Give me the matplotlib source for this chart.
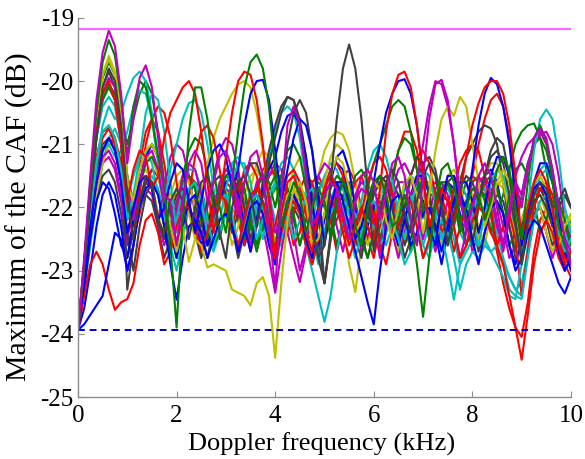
import numpy as np
import matplotlib
matplotlib.use("Agg")
import matplotlib.pyplot as plt

plt.rcParams['font.family'] = ['Liberation Serif', 'DejaVu Serif']

# Doppler frequency grid (kHz), 0.125 kHz step
freq_khz = np.arange(81) / 8.0

# Reference levels (dB)
upper_level = -19.18
lower_level = -23.94

# Curves: maximum of the CAF (dB); each line of a list = one kHz (8 samples)
m_top = [-23.94, -22.8, -21.5, -20.3, -19.55, -19.2, -19.45, -20.2,
         -21.3, -20.6, -19.95, -19.75, -20.1, -20.9, -21.8, -21.9,
         -22.6, -21.9, -21.3, -21.1, -21.3, -21.9, -21.6, -21.2,
         -21.1, -21.4, -22.1, -21.6, -21.2, -21.1, -21.5, -22.3,
         -23.3, -21.8, -20.7, -20.4, -20.7, -21.5, -22.3, -22.1,
         -21.8, -21.6, -21.7, -22.1, -22.5, -21.9, -21.5, -21.4,
         -21.6, -22.2, -21.8, -21.3, -21.2, -21.5, -22.2, -22.6,
         -21.5, -20.6, -20.05, -19.98, -20.3, -21.0, -21.9, -22.3,
         -22.0, -21.5, -21.3, -21.5, -22.0, -22.6, -22.1, -21.6,
         -22.0, -21.4, -20.9, -20.75, -20.9, -21.4, -22.0, -22.5,
         -22.9]
g_top = [-23.94, -22.9, -21.6, -20.5, -19.7, -19.35, -19.6, -20.3,
         -21.2, -20.4, -20.0, -20.1, -20.6, -21.2, -21.7, -22.6,
         -23.9, -22.2, -20.8, -20.1, -20.1, -20.6, -21.4, -22.0,
         -22.4, -21.6, -20.8, -20.1, -19.7, -19.58, -19.8, -20.4,
         -21.4, -22.3, -21.9, -21.6, -21.8, -22.4, -22.0, -21.7,
         -21.9, -22.5, -21.9, -21.6, -21.8, -22.3, -22.6, -22.0,
         -21.6, -21.5, -21.8, -22.3, -22.2, -21.8, -22.2, -22.9,
         -23.73, -22.8, -21.9, -21.4, -21.3, -21.6, -22.2, -22.0,
         -21.7, -21.8, -22.2, -21.9, -21.4, -21.2, -21.4, -22.0,
         -22.5, -21.6, -20.9, -20.7, -20.95, -21.6, -22.3, -22.6,
         -22.8]
k_peak = [-23.94, -23.0, -21.9, -20.9, -20.1, -19.8, -20.0, -20.7,
          -21.8, -22.5, -21.9, -21.5, -21.6, -22.2, -22.4, -21.9,
          -21.7, -21.9, -22.5, -22.0, -21.6, -21.5, -21.8, -22.4,
          -22.8, -22.0, -21.6, -21.5, -21.8, -22.3, -21.8, -21.3,
          -20.9, -20.5, -20.25, -20.3, -20.7, -21.4, -22.3, -22.8,
          -22.6, -21.6, -20.6, -19.8, -19.42, -19.8, -20.6, -21.7,
          -22.7, -22.1, -21.6, -21.4, -21.6, -22.1, -22.4, -21.9,
          -21.5, -21.3, -21.5, -22.0, -22.6, -22.1, -21.7, -21.5,
          -21.6, -21.9, -21.5, -21.1, -20.9, -21.0, -21.5, -22.2,
          -22.9, -22.2, -21.8, -21.6, -21.7, -22.0, -21.9, -21.7,
          -22.0]
y_dip = [-23.94, -23.0, -21.8, -20.6, -19.9, -19.65, -19.9, -20.6,
         -21.6, -21.9, -21.4, -21.1, -21.0, -21.2, -21.7, -22.3,
         -22.7, -22.3, -22.86, -22.5, -22.6, -22.95, -22.9, -22.95,
         -23.0, -23.3, -23.35, -23.4, -23.55, -23.2, -23.1, -23.4,
         -24.38, -23.2, -22.2, -21.7, -21.6, -21.9, -22.6, -22.5,
         -22.1, -21.5, -21.2, -21.3, -21.7, -22.4, -22.2, -21.8,
         -21.6, -21.7, -22.2, -22.5, -22.0, -21.6, -21.5, -21.8,
         -22.4, -21.8, -21.1, -20.6, -20.4, -20.55, -20.25, -20.4,
         -21.0, -21.6, -22.3, -22.0, -21.6, -21.4, -21.6, -22.1,
         -22.6, -22.0, -21.6, -21.5, -21.7, -22.2, -22.6, -22.3,
         -22.1]
r_high = [-23.94, -22.9, -21.7, -20.8, -20.2, -20.0, -20.3, -21.0,
          -21.9, -21.4, -21.1, -21.2, -21.7, -21.5, -20.9, -20.5,
          -20.3, -20.1, -20.0, -20.2, -20.8, -21.6, -22.4, -21.9,
          -21.2, -20.5, -20.0, -19.85, -19.9, -20.3, -21.0, -21.9,
          -22.8, -22.1, -21.6, -21.5, -21.8, -22.4, -22.7, -22.1,
          -21.7, -21.5, -21.7, -22.2, -22.6, -22.3, -22.0, -22.3,
          -22.6, -21.7, -20.8, -20.2, -19.9, -19.85, -20.1, -20.7,
          -21.5, -22.3, -22.0, -21.7, -21.9, -22.2, -21.8, -21.2,
          -20.7, -20.35, -20.1, -20.0, -20.0, -20.2, -20.7, -21.5,
          -22.5, -22.0, -21.6, -21.4, -21.6, -22.0, -22.6, -22.9,
          -22.7]
b_high = [-23.94, -23.2, -22.3, -21.6, -21.1, -20.9, -21.1, -21.6,
          -22.4, -22.0, -21.6, -21.5, -21.7, -22.2, -22.0, -21.6,
          -21.3, -21.4, -21.9, -22.4, -21.9, -21.4, -21.1, -21.0,
          -21.2, -21.7, -21.4, -20.7, -20.2, -20.0, -19.98, -20.3,
          -21.1, -21.9, -21.4, -20.9, -20.6, -20.7, -21.1, -21.8,
          -22.6, -22.0, -21.6, -21.6, -21.9, -22.5, -22.3, -21.9,
          -21.6, -21.0, -20.5, -20.2, -20.0, -19.97, -20.2, -20.7,
          -21.5, -22.3, -22.6, -21.9, -21.5, -21.5, -21.9, -22.0,
          -21.4, -20.7, -20.2, -19.95, -20.05, -20.4, -21.0, -21.8,
          -22.6, -22.1, -21.7, -21.6, -21.8, -22.2, -22.7, -23.0,
          -22.8]
b_low = [-23.94, -23.85, -23.7, -23.55, -23.4, -22.9, -22.4, -22.5,
         -23.0, -22.6, -22.0, -21.7, -21.6, -21.8, -22.3, -22.9,
         -23.46, -22.8, -22.3, -22.2, -22.4, -22.8, -22.5, -22.2,
         -22.1, -22.3, -22.7, -22.4, -22.0, -21.9, -22.1, -22.6,
         -22.9, -22.3, -21.9, -21.8, -22.0, -22.5, -22.8, -22.2,
         -21.8, -21.6, -21.6, -21.9, -22.3, -22.7, -23.1, -23.5,
         -23.85, -23.0, -22.3, -21.9, -21.8, -22.1, -22.6, -22.4,
         -22.1, -22.0, -22.3, -22.7, -22.3, -21.9, -21.8, -22.0,
         -22.5, -22.9, -22.4, -22.0, -21.9, -22.1, -22.6, -23.0,
         -22.8, -22.4, -22.2, -22.3, -22.6, -22.9, -23.2, -23.36,
         -23.1]
r_low = [-23.94, -23.4, -22.9, -22.7, -22.9, -23.3, -23.62, -23.5,
         -23.45, -23.2, -22.6, -22.2, -22.1, -22.4, -22.9, -22.7,
         -22.3, -22.0, -22.0, -22.3, -22.7, -22.4, -22.0, -21.8,
         -21.9, -22.3, -22.6, -22.2, -21.8, -21.7, -21.9, -22.4,
         -22.9, -22.4, -22.0, -21.9, -22.1, -22.6, -22.9, -22.5,
         -22.1, -21.9, -22.0, -22.4, -22.8, -22.5, -22.1, -21.9,
         -22.1, -22.6, -22.9, -22.4, -22.0, -21.8, -21.9, -22.3,
         -22.8, -22.5, -22.0, -21.8, -21.9, -22.3, -22.8, -22.6,
         -22.2, -22.0, -22.1, -22.4, -22.6, -22.9, -23.4, -23.9,
         -24.41, -23.7, -22.9, -22.4, -22.2, -22.4, -22.8, -23.0,
         -22.8]
c_low = [-23.94, -23.1, -22.2, -21.3, -20.8, -20.7, -20.9, -21.4,
         -22.2, -21.8, -21.2, -20.5, -20.2, -20.3, -20.8, -21.6,
         -22.4, -22.0, -21.7, -21.6, -21.9, -22.4, -22.3, -21.9,
         -21.8, -22.1, -22.6, -22.3, -21.9, -21.8, -22.0, -22.5,
         -22.9, -22.5, -22.1, -21.9, -22.1, -22.6, -23.0, -23.4,
         -23.81, -23.4, -22.7, -22.2, -22.0, -22.1, -22.3, -22.2,
         -22.3, -22.6, -22.4, -22.2, -22.5, -22.9, -22.7, -22.5,
         -22.6, -22.8, -22.4, -22.2, -22.4, -22.8, -23.3, -22.9,
         -22.7, -22.8, -22.6, -22.7, -22.9, -23.1, -23.4, -23.45,
         -22.9, -22.0, -21.1, -20.6, -20.45, -20.6, -21.2, -22.0,
         -22.4]
m_mid = [-23.94, -23.0, -21.9, -20.9, -20.2, -19.95, -20.1, -20.7,
         -21.6, -22.2, -21.6, -21.2, -21.1, -21.4, -22.0, -22.5,
         -22.0, -21.5, -21.3, -21.4, -21.8, -22.4, -22.1, -21.6,
         -21.4, -21.5, -21.9, -22.4, -22.0, -21.6, -21.5, -21.8,
         -22.4, -22.2, -22.4, -22.8, -23.18, -22.7, -22.0, -21.5,
         -21.3, -21.4, -21.8, -22.4, -22.3, -21.9, -21.7, -21.8,
         -22.2, -22.8, -22.4, -21.9, -21.6, -21.6, -21.8, -21.6,
         -21.0, -20.4, -20.0, -20.05, -20.4, -21.0, -21.8, -22.4,
         -22.0, -21.7, -21.6, -21.8, -22.3, -22.6, -22.0, -21.5,
         -21.2, -21.0, -20.9, -20.8, -21.0, -21.4, -22.0, -22.5,
         -22.7]
k_mid = [-23.94, -23.0, -21.9, -20.8, -20.1, -19.85, -20.1, -21.0,
         -23.3, -22.6, -21.9, -21.6, -21.7, -22.2, -22.5, -22.1,
         -21.8, -21.7, -21.9, -22.4, -22.3, -21.9, -21.6, -21.5,
         -21.8, -22.4, -22.1, -21.6, -21.3, -21.3, -21.6, -22.2,
         -22.7, -21.8, -21.0, -20.5, -20.3, -20.5, -21.1, -22.0,
         -23.2, -22.4, -21.8, -21.6, -21.8, -22.3, -22.6, -22.1,
         -21.7, -21.5, -21.6, -22.0, -22.5, -22.0, -21.5, -21.2,
         -21.3, -21.8, -22.4, -22.0, -21.6, -21.5, -21.7, -22.2,
         -22.6, -22.0, -21.5, -21.2, -21.1, -21.3, -21.8, -22.3,
         -22.8, -22.2, -21.9, -21.8, -22.0, -22.3, -22.0, -21.8,
         -22.0]
c_mid = [-23.94, -23.1, -22.2, -21.3, -20.7, -20.4, -20.6, -20.5,
         -20.2, -19.95, -19.85, -20.0, -20.5, -21.2, -22.0, -22.5,
         -22.2, -21.7, -21.4, -21.4, -21.7, -22.2, -22.6, -22.2,
         -21.7, -21.3, -21.2, -21.4, -21.9, -22.5, -22.2, -21.8,
         -21.6, -21.7, -22.1, -22.5, -22.2, -21.8, -21.7, -21.9,
         -22.4, -22.1, -21.9, -22.0, -22.4, -22.8, -22.4, -22.0,
         -21.9, -22.1, -22.6, -22.3, -21.9, -21.7, -21.8, -22.3,
         -22.8, -22.6, -22.3, -22.4, -22.9, -23.46, -22.9, -22.7,
         -22.5, -22.6, -22.5, -22.7, -22.6, -22.9, -23.3, -23.4,
         -23.45, -22.8, -22.2, -21.9, -21.8, -22.0, -22.4, -22.7,
         -22.5]
b_mid = [-23.94, -23.3, -22.5, -21.9, -21.6, -21.7, -22.1, -22.6,
         -22.8, -22.2, -21.6, -21.2, -21.0, -21.2, -21.7, -22.3,
         -22.8, -22.3, -21.9, -21.8, -22.1, -22.6, -22.3, -21.9,
         -21.6, -21.5, -21.8, -22.3, -22.7, -22.2, -21.7, -21.4,
         -21.2, -20.8, -20.55, -20.5, -20.7, -21.2, -21.9, -22.6,
         -22.2, -21.6, -21.2, -21.1, -21.4, -22.0, -22.6, -22.3,
         -22.0, -21.8, -21.9, -22.3, -22.6, -22.2, -21.8, -21.5,
         -21.5, -21.8, -22.4, -22.9, -22.4, -21.9, -21.6, -21.6,
         -21.9, -22.4, -22.0, -21.5, -21.2, -21.2, -21.5, -22.0,
         -22.6, -22.1, -21.6, -21.3, -21.3, -21.6, -22.1, -22.7,
         -23.0]
r_mid = [-23.94, -23.0, -22.1, -21.3, -20.9, -20.75, -20.9, -21.3,
         -22.0, -22.5, -21.8, -21.0, -20.6, -20.4, -20.5, -20.9,
         -21.6, -22.3, -21.8, -21.2, -20.8, -20.7, -20.9, -21.4,
         -22.0, -22.4, -21.8, -21.4, -21.3, -21.5, -22.0, -22.5,
         -22.3, -21.8, -21.5, -21.4, -21.6, -22.1, -22.5, -22.1,
         -21.7, -21.4, -21.3, -21.5, -21.9, -22.5, -22.1, -21.6,
         -21.3, -21.2, -21.4, -21.8, -22.3, -22.0, -21.5, -21.2,
         -21.1, -21.3, -21.8, -22.4, -22.2, -21.7, -21.3, -21.1,
         -21.0, -21.1, -21.5, -22.0, -22.6, -22.3, -22.1, -22.5,
         -23.4, -22.7, -22.0, -21.7, -21.6, -21.8, -22.3, -22.8,
         -22.9]
g_mid = [-23.94, -22.9, -21.8, -20.8, -20.3, -20.1, -20.3, -20.9,
         -21.8, -22.3, -21.7, -21.3, -21.2, -21.4, -21.9, -22.4,
         -22.0, -21.6, -21.5, -21.7, -22.2, -22.6, -22.1, -21.7,
         -21.5, -21.6, -22.0, -22.5, -22.1, -21.7, -21.5, -21.6,
         -22.0, -21.5, -21.1, -21.0, -21.2, -21.7, -22.3, -22.6,
         -22.1, -21.7, -21.5, -21.6, -22.0, -22.5, -22.2, -21.7,
         -21.3, -21.0, -20.7, -20.4, -20.3, -20.4, -20.8, -21.4,
         -22.1, -22.4, -21.9, -21.6, -21.6, -21.9, -22.4, -22.2,
         -21.9, -21.7, -21.8, -22.1, -22.6, -22.3, -21.8, -21.4,
         -21.3, -21.5, -21.9, -22.4, -22.2, -21.9, -21.9, -22.2,
         -22.6]
y_mid = [-23.94, -22.9, -21.7, -20.6, -19.9, -19.6, -19.85, -20.5,
         -21.5, -22.2, -21.6, -21.2, -21.2, -21.5, -22.0, -21.8,
         -21.5, -21.4, -21.6, -22.0, -21.8, -21.3, -20.9, -20.6,
         -20.4, -20.2, -20.05, -20.0, -20.1, -20.5, -21.1, -21.9,
         -22.6, -22.2, -21.8, -21.7, -21.9, -22.4, -22.6, -22.1,
         -21.6, -21.2, -21.0, -21.1, -21.4, -22.0, -22.4, -21.9,
         -21.6, -21.5, -21.7, -22.2, -22.5, -22.0, -21.6, -21.5,
         -21.7, -22.2, -22.4, -21.9, -21.5, -21.4, -21.6, -22.1,
         -22.5, -22.0, -21.5, -21.3, -21.3, -21.6, -22.1, -22.4,
         -22.2, -21.9, -21.8, -22.0, -22.4, -22.7, -22.4, -22.1,
         -22.2]
c_hi2 = [-23.94, -22.9, -21.8, -20.9, -20.4, -20.25, -20.4, -21.0,
         -21.9, -21.5, -21.2, -21.1, -21.3, -21.8, -21.9, -21.4,
         -21.0, -20.6, -20.35, -20.3, -20.5, -21.0, -21.7, -22.4,
         -22.1, -21.6, -21.3, -21.3, -21.6, -22.1, -22.5, -22.0,
         -21.6, -21.3, -21.2, -21.4, -21.8, -22.4, -22.2, -21.8,
         -21.5, -21.3, -21.4, -21.7, -22.1, -22.4, -21.9, -21.4,
         -21.1, -21.0, -21.2, -21.6, -22.1, -22.5, -22.0, -21.6,
         -21.4, -21.5, -21.9, -22.5, -22.2, -21.8, -21.6, -21.8,
         -22.2, -22.6, -22.1, -21.6, -21.4, -21.5, -21.9, -22.4,
         -22.8, -22.2, -21.7, -21.4, -21.3, -21.5, -21.9, -22.4,
         -22.7]
k_hi2 = [-23.94, -23.1, -22.2, -21.4, -21.0, -20.9, -21.1, -21.6,
         -22.4, -23.0, -22.3, -21.8, -21.6, -21.8, -22.3, -22.7,
         -22.2, -21.8, -21.7, -21.9, -22.4, -22.8, -22.3, -21.8,
         -21.5, -21.4, -21.6, -22.0, -22.5, -22.2, -21.6, -21.1,
         -20.7, -20.4, -20.25, -20.3, -20.6, -21.2, -22.0, -22.8,
         -23.2, -22.5, -22.0, -21.8, -22.0, -22.5, -22.8, -22.2,
         -21.8, -21.6, -21.5, -21.7, -22.1, -22.6, -22.3, -21.7,
         -21.3, -21.2, -21.4, -21.9, -22.5, -22.1, -21.6, -21.2,
         -21.0, -20.8, -20.7, -20.75, -21.0, -21.6, -22.3, -22.7,
         -22.3, -21.9, -21.7, -21.7, -21.9, -22.3, -22.0, -21.8,
         -22.0]
m_lo2 = [-23.94, -23.1, -22.3, -21.6, -21.2, -21.1, -21.3, -21.8,
         -22.5, -22.0, -21.6, -21.5, -21.7, -22.2, -21.7, -21.2,
         -21.0, -21.1, -21.5, -22.1, -22.5, -22.0, -21.5, -21.1,
         -20.9, -21.0, -21.4, -22.0, -22.6, -22.3, -21.8, -21.5,
         -21.3, -21.4, -21.8, -22.4, -23.0, -22.6, -22.0, -21.7,
         -21.6, -21.8, -22.3, -22.7, -22.2, -21.8, -21.6, -21.7,
         -22.1, -22.6, -22.2, -21.7, -21.4, -21.3, -21.5, -22.0,
         -22.5, -22.1, -21.7, -21.6, -21.8, -22.3, -22.8, -22.4,
         -21.9, -21.6, -21.5, -21.7, -22.2, -22.7, -22.2, -21.6,
         -21.8, -21.3, -21.0, -20.85, -20.8, -21.0, -21.5, -22.2,
         -22.5]
g_lo2 = [-23.94, -23.0, -21.9, -20.9, -20.3, -20.05, -20.2, -20.6,
         -21.0, -20.6, -20.2, -20.0, -20.2, -20.8, -21.6, -22.4,
         -22.8, -22.3, -21.8, -21.6, -21.7, -22.1, -22.6, -22.4,
         -22.0, -21.7, -21.6, -21.8, -22.3, -22.7, -22.3, -21.9,
         -21.7, -21.6, -21.8, -22.2, -22.6, -22.2, -21.9, -21.8,
         -22.0, -22.4, -22.2, -21.9, -21.8, -22.0, -22.5, -22.8,
         -22.4, -22.0, -21.7, -21.6, -21.8, -22.2, -22.7, -22.4,
         -22.0, -21.8, -21.8, -22.1, -22.6, -22.3, -21.9, -21.6,
         -21.5, -21.6, -21.9, -22.4, -22.1, -21.8, -21.4, -21.0,
         -20.8, -20.7, -20.67, -20.9, -21.4, -22.0, -22.5, -22.4,
         -22.2]
b_lo2 = [-23.94, -23.6, -23.0, -22.3, -21.8, -21.6, -21.8, -22.3,
         -23.0, -22.6, -22.0, -21.6, -21.4, -21.5, -21.9, -22.4,
         -22.6, -22.2, -22.0, -22.2, -22.6, -22.3, -21.9, -21.7,
         -21.8, -22.2, -22.7, -22.3, -21.9, -21.8, -22.0, -22.5,
         -22.6, -22.1, -21.8, -21.8, -22.1, -22.6, -22.4, -22.0,
         -21.7, -21.4, -21.3, -21.4, -21.8, -22.3, -22.6, -22.1,
         -21.7, -21.5, -21.6, -22.0, -22.5, -22.2, -21.8, -21.7,
         -21.9, -22.4, -22.2, -21.8, -21.6, -21.7, -22.1, -22.6,
         -22.3, -21.8, -21.5, -21.4, -21.6, -22.1, -22.6, -22.9,
         -22.5, -22.0, -21.7, -21.6, -21.8, -22.2, -22.7, -23.0,
         -22.8]
r_lo2 = [-23.94, -23.1, -22.3, -21.6, -21.1, -20.9, -21.0, -21.4,
         -21.9, -22.5, -22.1, -21.6, -21.4, -21.5, -21.9, -22.4,
         -22.1, -21.7, -21.5, -21.6, -22.0, -22.5, -22.2, -21.8,
         -21.6, -21.7, -22.1, -22.6, -22.2, -21.7, -21.4, -21.3,
         -21.5, -21.9, -22.4, -22.1, -21.7, -21.5, -21.6, -22.0,
         -22.5, -22.2, -21.8, -21.5, -21.4, -21.6, -22.0, -22.5,
         -22.8, -22.3, -21.9, -21.7, -21.8, -22.2, -22.7, -22.4,
         -22.0, -21.7, -21.6, -21.8, -22.2, -22.7, -22.3, -21.9,
         -21.6, -21.5, -21.7, -22.1, -22.7, -23.2, -23.6, -23.9,
         -24.05, -23.5, -22.7, -22.2, -22.0, -22.1, -22.5, -22.9,
         -23.1]
c_lo2 = [-23.94, -23.3, -22.6, -21.9, -21.3, -20.9, -20.75, -21.0,
         -21.5, -22.1, -21.9, -21.6, -21.5, -21.7, -22.1, -22.6,
         -23.0, -22.5, -22.0, -21.8, -21.9, -22.3, -22.7, -22.4,
         -22.1, -22.0, -22.2, -22.6, -22.3, -21.9, -21.7, -21.8,
         -22.2, -22.6, -22.3, -21.9, -21.7, -21.8, -22.2, -22.7,
         -22.4, -22.0, -21.8, -21.8, -22.1, -22.6, -22.4, -22.0,
         -21.8, -21.8, -22.1, -22.5, -22.3, -22.0, -21.9, -22.1,
         -22.6, -22.3, -22.0, -21.9, -22.1, -22.5, -22.9, -22.6,
         -22.2, -22.0, -22.0, -22.3, -22.7, -22.9, -23.1, -23.3,
         -23.2, -22.7, -22.2, -21.9, -21.8, -22.0, -22.3, -22.6,
         -22.5]
m_low = [-23.94, -23.2, -22.4, -21.7, -21.3, -21.2, -21.4, -21.9,
         -22.6, -22.3, -21.9, -21.7, -21.8, -22.2, -22.6, -22.3,
         -21.9, -21.6, -21.5, -21.7, -22.1, -22.6, -22.3, -21.9,
         -21.7, -21.8, -22.2, -22.6, -22.3, -22.0, -22.3, -22.8,
         -23.35, -22.7, -22.1, -21.8, -21.7, -22.0, -22.4, -22.8,
         -22.5, -22.0, -21.7, -21.6, -21.8, -22.2, -22.7, -22.5,
         -22.1, -21.9, -22.0, -22.4, -22.8, -22.4, -22.0, -21.8,
         -21.9, -22.3, -22.7, -22.3, -21.9, -21.7, -21.8, -22.2,
         -22.7, -22.4, -22.0, -21.8, -21.9, -22.3, -22.8, -22.6,
         -22.2, -21.9, -21.8, -22.0, -22.4, -22.8, -22.5, -22.3,
         -22.6]
y_low = [-23.94, -23.0, -22.0, -21.2, -20.8, -20.7, -20.9, -21.4,
         -22.2, -21.8, -21.5, -21.4, -21.6, -22.1, -22.5, -22.1,
         -21.7, -21.5, -21.6, -22.0, -22.5, -22.2, -21.8, -21.6,
         -21.7, -22.1, -22.6, -22.2, -21.7, -21.3, -21.1, -21.2,
         -21.6, -22.2, -21.8, -21.4, -21.2, -21.3, -21.7, -22.3,
         -22.5, -22.0, -21.7, -22.2, -22.9, -23.34, -22.6, -22.0,
         -21.7, -21.6, -21.8, -22.2, -22.7, -22.3, -21.9, -21.6,
         -21.5, -21.7, -22.1, -22.6, -22.2, -21.8, -21.6, -21.6,
         -21.8, -22.3, -22.6, -22.1, -21.7, -21.5, -21.6, -22.0,
         -22.5, -22.1, -21.8, -21.7, -21.9, -22.3, -22.7, -22.4,
         -22.3]
k_low = [-23.94, -23.2, -22.4, -21.8, -21.5, -21.4, -21.6, -22.1,
         -22.8, -22.4, -22.0, -21.8, -21.9, -22.3, -22.8, -22.5,
         -22.1, -21.9, -22.0, -22.4, -22.8, -22.4, -22.0, -21.8,
         -21.9, -22.3, -22.8, -22.4, -22.0, -21.8, -21.9, -22.3,
         -22.8, -22.4, -22.1, -22.0, -22.2, -22.6, -22.9, -22.5,
         -23.2, -22.5, -21.9, -21.6, -21.6, -21.9, -22.4, -22.8,
         -22.4, -22.0, -21.8, -21.9, -22.3, -22.8, -22.5, -22.1,
         -21.9, -21.9, -22.2, -22.6, -22.3, -21.9, -21.7, -21.8,
         -22.2, -22.7, -22.4, -22.0, -21.8, -21.9, -22.3, -22.8,
         -22.9, -22.4, -22.1, -22.0, -22.2, -22.6, -22.4, -22.2,
         -22.5]
r_hi2 = [-23.94, -23.0, -22.0, -21.2, -20.8, -20.75, -21.0, -21.6,
         -22.4, -22.0, -21.3, -20.8, -20.6, -20.8, -21.3, -22.0,
         -22.6, -22.2, -21.9, -21.9, -22.2, -22.6, -22.3, -21.9,
         -21.6, -21.5, -21.7, -22.2, -22.7, -22.3, -21.8, -21.5,
         -21.4, -21.6, -22.1, -22.6, -22.4, -21.9, -21.6, -21.5,
         -21.7, -22.2, -22.7, -22.3, -21.9, -21.6, -21.5, -21.8,
         -22.3, -22.7, -22.2, -21.6, -21.1, -20.8, -20.8, -21.1,
         -21.7, -22.3, -22.0, -21.7, -21.6, -21.8, -22.3, -22.0,
         -21.5, -21.0, -20.6, -20.3, -20.2, -20.4, -20.9, -21.7,
         -22.7, -22.3, -21.9, -21.7, -21.8, -22.1, -22.5, -22.8,
         -22.7]
g_hi2 = [-23.94, -22.9, -21.7, -20.6, -19.95, -19.7, -19.9, -20.5,
         -21.5, -21.9, -21.4, -21.1, -21.0, -21.2, -21.6, -22.1,
         -22.0, -21.5, -21.1, -20.9, -21.0, -21.4, -22.0, -22.5,
         -22.0, -21.6, -21.5, -21.7, -22.2, -22.6, -22.1, -21.7,
         -21.5, -21.5, -21.7, -22.1, -22.6, -22.2, -21.8, -21.6,
         -21.7, -22.1, -22.6, -22.2, -21.8, -21.5, -21.4, -21.6,
         -22.0, -22.5, -22.1, -21.5, -21.1, -20.9, -21.0, -21.4,
         -22.0, -22.5, -22.0, -21.7, -21.6, -21.8, -22.2, -22.6,
         -22.3, -21.9, -21.6, -21.5, -21.7, -22.1, -22.6, -22.4,
         -21.8, -21.3, -21.0, -20.9, -21.1, -21.5, -22.1, -22.6,
         -22.9]
c_hi3 = [-23.94, -23.1, -22.2, -21.5, -21.1, -21.0, -21.2, -21.1,
         -20.8, -20.4, -20.15, -20.2, -20.6, -21.3, -22.1, -22.5,
         -22.0, -21.6, -21.5, -21.7, -22.1, -22.6, -22.2, -21.7,
         -21.4, -21.3, -21.5, -22.0, -22.5, -22.1, -21.6, -21.2,
         -20.8, -20.5, -20.4, -20.5, -20.9, -21.6, -22.4, -22.9,
         -22.5, -21.9, -21.6, -21.7, -22.0, -22.5, -22.2, -21.8,
         -21.6, -21.6, -21.9, -22.4, -22.1, -21.7, -21.5, -21.6,
         -22.0, -22.5, -22.2, -21.8, -21.7, -21.9, -22.4, -22.6,
         -22.1, -21.8, -21.7, -21.9, -22.4, -22.8, -23.1, -23.3,
         -23.4, -22.6, -21.9, -21.5, -21.4, -21.6, -22.0, -22.5,
         -22.7]
y_lo2 = [-23.94, -23.2, -22.5, -21.8, -21.3, -21.0, -21.0, -21.3,
         -21.9, -22.4, -22.0, -21.7, -21.6, -21.8, -22.3, -22.1,
         -21.8, -21.8, -22.1, -22.5, -22.2, -21.8, -21.6, -21.7,
         -22.1, -22.6, -22.3, -21.8, -21.5, -21.4, -21.6, -22.1,
         -22.7, -22.2, -21.8, -21.7, -21.9, -22.4, -22.0, -21.5,
         -21.1, -20.9, -20.8, -20.85, -21.1, -21.6, -22.2, -22.6,
         -22.2, -21.8, -21.6, -21.7, -22.1, -22.6, -22.2, -21.8,
         -21.6, -21.6, -21.9, -22.4, -22.1, -21.7, -21.5, -21.6,
         -22.0, -22.5, -22.2, -21.8, -21.6, -21.7, -22.1, -22.6,
         -22.4, -22.0, -21.8, -21.8, -22.1, -22.5, -22.3, -22.1,
         -22.3]

BLUE, GREEN, RED = '#0000FF', '#008000', '#FF0000'
CYAN, MAGENTA, YELLOW, GRAY = '#00BFBF', '#BF00BF', '#BFBF00', '#404040'

series = [
    (c_lo2, CYAN), (k_low, GRAY), (y_low, YELLOW), (m_low, MAGENTA), (b_lo2, BLUE),
    (r_lo2, RED), (g_lo2, GREEN), (y_lo2, YELLOW), (c_hi3, CYAN), (r_hi2, RED),
    (g_hi2, GREEN), (m_lo2, MAGENTA), (k_hi2, GRAY), (c_hi2, CYAN), (y_mid, YELLOW),
    (g_mid, GREEN), (r_mid, RED), (b_mid, BLUE), (c_mid, CYAN), (k_mid, GRAY),
    (m_mid, MAGENTA), (c_low, CYAN), (r_low, RED), (b_low, BLUE), (y_dip, YELLOW),
    (b_high, BLUE), (r_high, RED), (k_peak, GRAY), (g_top, GREEN), (m_top, MAGENTA),
]

fig = plt.figure(figsize=(5.85, 4.59), dpi=100)
ax = fig.add_axes([0.1333, 0.135, 0.8427, 0.826])

for vals, col in series:
    ax.plot(freq_khz, vals, color=col, lw=1.5, solid_joinstyle='round')

ax.axhline(upper_level, color='#FF66FF', lw=1.6)
ax.axhline(lower_level, color='#0000CC', lw=1.4, ls=(0, (3.5, 2.5)))

ax.set_xlim(0, 10)
ax.set_ylim(-25, -19)
ax.set_xticks([0, 2, 4, 6, 8, 10])
ax.set_yticks([-25, -24, -23, -22, -21, -20, -19])
ax.set_xticklabels(['0', '2', '4', '6', '8', '10'])
ax.set_yticklabels(['-25', '-24', '-23', '-22', '-21', '-20', '-19'])

for s in ['top', 'right']:
    ax.spines[s].set_visible(False)
for s in ['left', 'bottom']:
    ax.spines[s].set_color('#8C8C8C')
    ax.spines[s].set_linewidth(1.0)
ax.tick_params(direction='in', length=4, color='#8C8C8C', labelsize=18)
ax.tick_params(axis='x', pad=6)
ax.tick_params(axis='y', pad=3)

ax.set_xlabel('Doppler frequency (kHz)', fontsize=19)
ax.set_ylabel('Maximum of the CAF (dB)', fontsize=21.5)
ax.xaxis.set_label_coords(0.495, -0.095)
ax.yaxis.set_label_coords(-0.092, 0.476)

fig.savefig('out.png', dpi=100)
